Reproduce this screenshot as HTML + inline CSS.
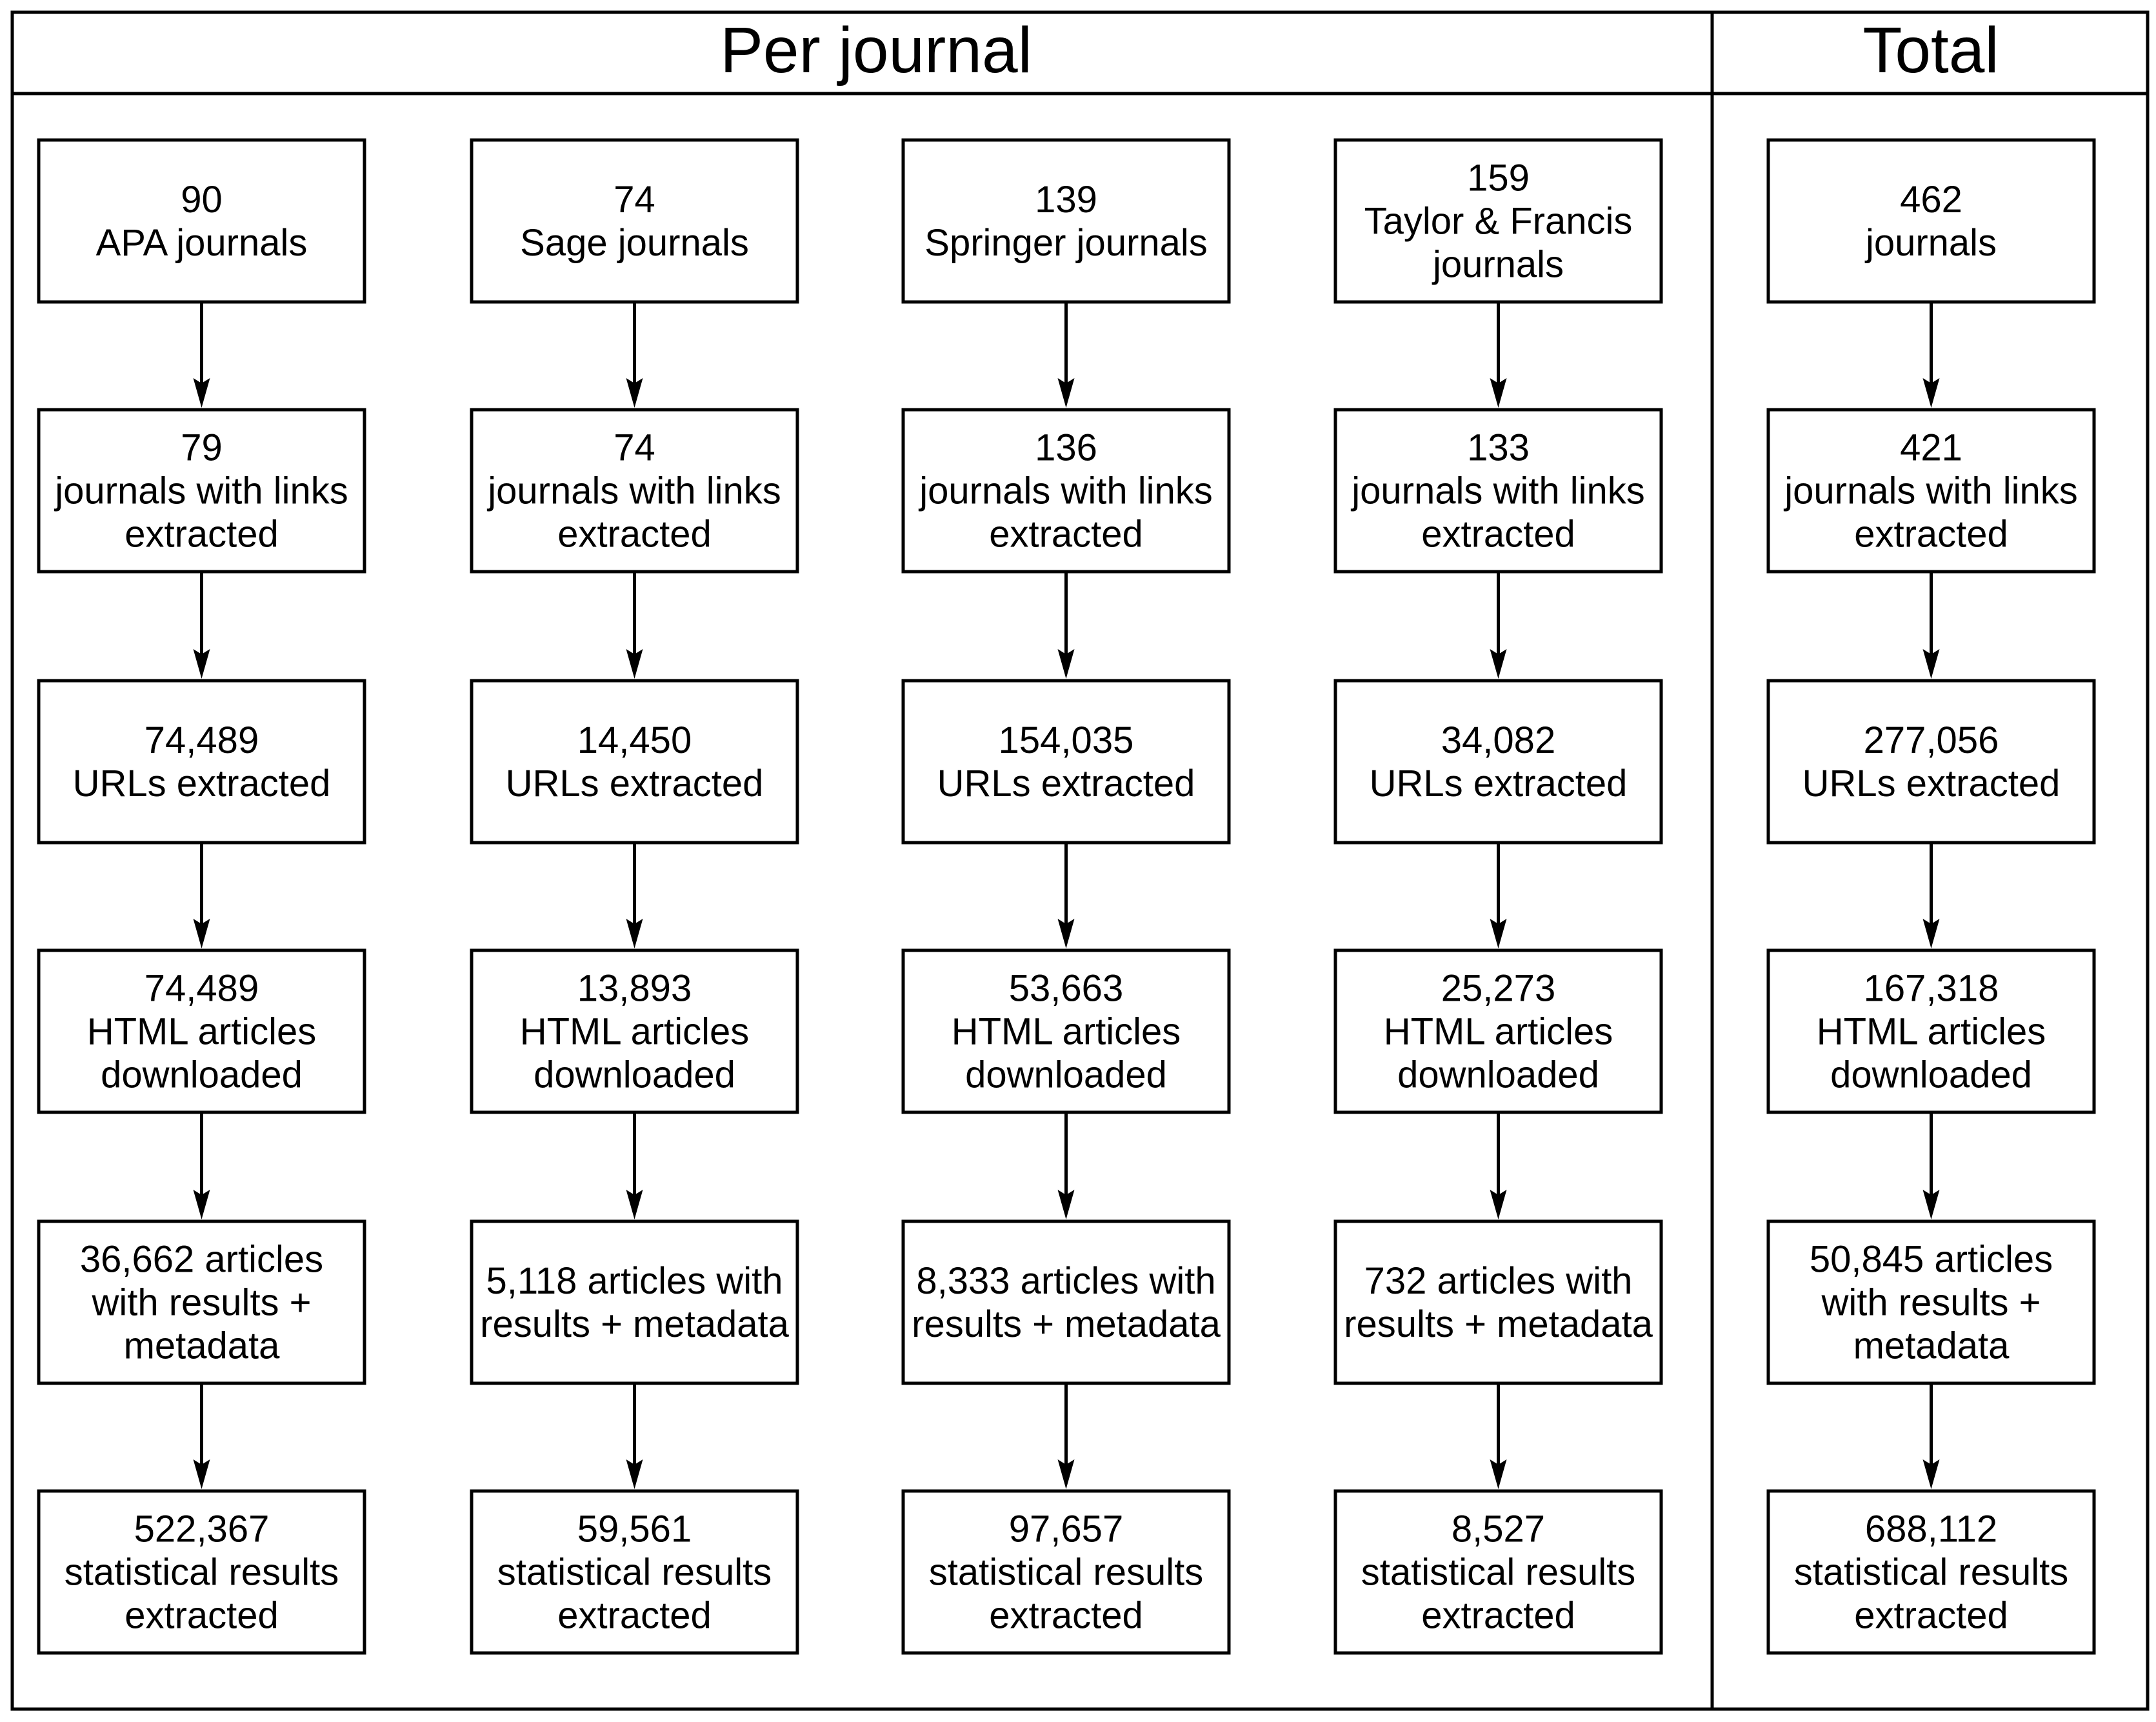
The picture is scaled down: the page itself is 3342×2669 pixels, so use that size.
<!DOCTYPE html>
<html><head><meta charset="utf-8"><style>
html,body{margin:0;padding:0;background:#fff}
svg{display:block}
text{font-family:"Liberation Sans",Arial,sans-serif;fill:#000;text-anchor:middle;font-size:58px}
.h{font-size:100px}
rect{fill:#fff;stroke:#000;stroke-width:5}
line{stroke:#000;stroke-width:5}
polygon{fill:#000}
</style></head><body>
<svg width="3342" height="2669" viewBox="0 0 3342 2669" xmlns="http://www.w3.org/2000/svg">
<rect x="19" y="19" width="3310" height="2630" fill="none"/>
<line x1="19" y1="145" x2="3329" y2="145"/>
<line x1="2654" y1="19" x2="2654" y2="2649"/>
<text class="h" x="1358" y="112">Per journal</text>
<text class="h" x="2993" y="112">Total</text>

<g transform="translate(60,0)">
<rect x="0" y="217" width="505" height="251"/><rect x="0" y="635" width="505" height="251"/><rect x="0" y="1055" width="505" height="251"/><rect x="0" y="1473" width="505" height="251"/><rect x="0" y="1893" width="505" height="251"/><rect x="0" y="2311" width="505" height="251"/>
<g transform="translate(252.5,0)">
<line x1="0" y1="470" x2="0" y2="602"/><polygon points="-13,586 0,594 13,586 0,632"/>
<line x1="0" y1="888" x2="0" y2="1022"/><polygon points="-13,1006 0,1014 13,1006 0,1052"/>
<line x1="0" y1="1308" x2="0" y2="1440"/><polygon points="-13,1424 0,1432 13,1424 0,1470"/>
<line x1="0" y1="1726" x2="0" y2="1860"/><polygon points="-13,1844 0,1852 13,1844 0,1890"/>
<line x1="0" y1="2146" x2="0" y2="2278"/><polygon points="-13,2262 0,2270 13,2262 0,2308"/>
<text x="0" y="329">90</text><text x="0" y="396">APA journals</text>
<text x="0" y="713.5">79</text><text x="0" y="780.5">journals with links</text><text x="0" y="847.5">extracted</text>
<text x="0" y="1167">74,489</text><text x="0" y="1234">URLs extracted</text>
<text x="0" y="1551.5">74,489</text><text x="0" y="1618.5">HTML articles</text><text x="0" y="1685.5">downloaded</text>
<text x="0" y="1971.5">36,662 articles</text><text x="0" y="2038.5">with results +</text><text x="0" y="2105.5">metadata</text>
<text x="0" y="2389.5">522,367</text><text x="0" y="2456.5">statistical results</text><text x="0" y="2523.5">extracted</text>
</g></g>

<g transform="translate(731,0)">
<rect x="0" y="217" width="505" height="251"/><rect x="0" y="635" width="505" height="251"/><rect x="0" y="1055" width="505" height="251"/><rect x="0" y="1473" width="505" height="251"/><rect x="0" y="1893" width="505" height="251"/><rect x="0" y="2311" width="505" height="251"/>
<g transform="translate(252.5,0)">
<line x1="0" y1="470" x2="0" y2="602"/><polygon points="-13,586 0,594 13,586 0,632"/>
<line x1="0" y1="888" x2="0" y2="1022"/><polygon points="-13,1006 0,1014 13,1006 0,1052"/>
<line x1="0" y1="1308" x2="0" y2="1440"/><polygon points="-13,1424 0,1432 13,1424 0,1470"/>
<line x1="0" y1="1726" x2="0" y2="1860"/><polygon points="-13,1844 0,1852 13,1844 0,1890"/>
<line x1="0" y1="2146" x2="0" y2="2278"/><polygon points="-13,2262 0,2270 13,2262 0,2308"/>
<text x="0" y="329">74</text><text x="0" y="396">Sage journals</text>
<text x="0" y="713.5">74</text><text x="0" y="780.5">journals with links</text><text x="0" y="847.5">extracted</text>
<text x="0" y="1167">14,450</text><text x="0" y="1234">URLs extracted</text>
<text x="0" y="1551.5">13,893</text><text x="0" y="1618.5">HTML articles</text><text x="0" y="1685.5">downloaded</text>
<text x="0" y="2005">5,118 articles with</text><text x="0" y="2072">results + metadata</text>
<text x="0" y="2389.5">59,561</text><text x="0" y="2456.5">statistical results</text><text x="0" y="2523.5">extracted</text>
</g></g>

<g transform="translate(1400,0)">
<rect x="0" y="217" width="505" height="251"/><rect x="0" y="635" width="505" height="251"/><rect x="0" y="1055" width="505" height="251"/><rect x="0" y="1473" width="505" height="251"/><rect x="0" y="1893" width="505" height="251"/><rect x="0" y="2311" width="505" height="251"/>
<g transform="translate(252.5,0)">
<line x1="0" y1="470" x2="0" y2="602"/><polygon points="-13,586 0,594 13,586 0,632"/>
<line x1="0" y1="888" x2="0" y2="1022"/><polygon points="-13,1006 0,1014 13,1006 0,1052"/>
<line x1="0" y1="1308" x2="0" y2="1440"/><polygon points="-13,1424 0,1432 13,1424 0,1470"/>
<line x1="0" y1="1726" x2="0" y2="1860"/><polygon points="-13,1844 0,1852 13,1844 0,1890"/>
<line x1="0" y1="2146" x2="0" y2="2278"/><polygon points="-13,2262 0,2270 13,2262 0,2308"/>
<text x="0" y="329">139</text><text x="0" y="396">Springer journals</text>
<text x="0" y="713.5">136</text><text x="0" y="780.5">journals with links</text><text x="0" y="847.5">extracted</text>
<text x="0" y="1167">154,035</text><text x="0" y="1234">URLs extracted</text>
<text x="0" y="1551.5">53,663</text><text x="0" y="1618.5">HTML articles</text><text x="0" y="1685.5">downloaded</text>
<text x="0" y="2005">8,333 articles with</text><text x="0" y="2072">results + metadata</text>
<text x="0" y="2389.5">97,657</text><text x="0" y="2456.5">statistical results</text><text x="0" y="2523.5">extracted</text>
</g></g>

<g transform="translate(2070,0)">
<rect x="0" y="217" width="505" height="251"/><rect x="0" y="635" width="505" height="251"/><rect x="0" y="1055" width="505" height="251"/><rect x="0" y="1473" width="505" height="251"/><rect x="0" y="1893" width="505" height="251"/><rect x="0" y="2311" width="505" height="251"/>
<g transform="translate(252.5,0)">
<line x1="0" y1="470" x2="0" y2="602"/><polygon points="-13,586 0,594 13,586 0,632"/>
<line x1="0" y1="888" x2="0" y2="1022"/><polygon points="-13,1006 0,1014 13,1006 0,1052"/>
<line x1="0" y1="1308" x2="0" y2="1440"/><polygon points="-13,1424 0,1432 13,1424 0,1470"/>
<line x1="0" y1="1726" x2="0" y2="1860"/><polygon points="-13,1844 0,1852 13,1844 0,1890"/>
<line x1="0" y1="2146" x2="0" y2="2278"/><polygon points="-13,2262 0,2270 13,2262 0,2308"/>
<text x="0" y="295.5">159</text><text x="0" y="362.5">Taylor &amp; Francis</text><text x="0" y="429.5">journals</text>
<text x="0" y="713.5">133</text><text x="0" y="780.5">journals with links</text><text x="0" y="847.5">extracted</text>
<text x="0" y="1167">34,082</text><text x="0" y="1234">URLs extracted</text>
<text x="0" y="1551.5">25,273</text><text x="0" y="1618.5">HTML articles</text><text x="0" y="1685.5">downloaded</text>
<text x="0" y="2005">732 articles with</text><text x="0" y="2072">results + metadata</text>
<text x="0" y="2389.5">8,527</text><text x="0" y="2456.5">statistical results</text><text x="0" y="2523.5">extracted</text>
</g></g>

<g transform="translate(2741,0)">
<rect x="0" y="217" width="505" height="251"/><rect x="0" y="635" width="505" height="251"/><rect x="0" y="1055" width="505" height="251"/><rect x="0" y="1473" width="505" height="251"/><rect x="0" y="1893" width="505" height="251"/><rect x="0" y="2311" width="505" height="251"/>
<g transform="translate(252.5,0)">
<line x1="0" y1="470" x2="0" y2="602"/><polygon points="-13,586 0,594 13,586 0,632"/>
<line x1="0" y1="888" x2="0" y2="1022"/><polygon points="-13,1006 0,1014 13,1006 0,1052"/>
<line x1="0" y1="1308" x2="0" y2="1440"/><polygon points="-13,1424 0,1432 13,1424 0,1470"/>
<line x1="0" y1="1726" x2="0" y2="1860"/><polygon points="-13,1844 0,1852 13,1844 0,1890"/>
<line x1="0" y1="2146" x2="0" y2="2278"/><polygon points="-13,2262 0,2270 13,2262 0,2308"/>
<text x="0" y="329">462</text><text x="0" y="396">journals</text>
<text x="0" y="713.5">421</text><text x="0" y="780.5">journals with links</text><text x="0" y="847.5">extracted</text>
<text x="0" y="1167">277,056</text><text x="0" y="1234">URLs extracted</text>
<text x="0" y="1551.5">167,318</text><text x="0" y="1618.5">HTML articles</text><text x="0" y="1685.5">downloaded</text>
<text x="0" y="1971.5">50,845 articles</text><text x="0" y="2038.5">with results +</text><text x="0" y="2105.5">metadata</text>
<text x="0" y="2389.5">688,112</text><text x="0" y="2456.5">statistical results</text><text x="0" y="2523.5">extracted</text>
</g></g>
</svg>
</body></html>
